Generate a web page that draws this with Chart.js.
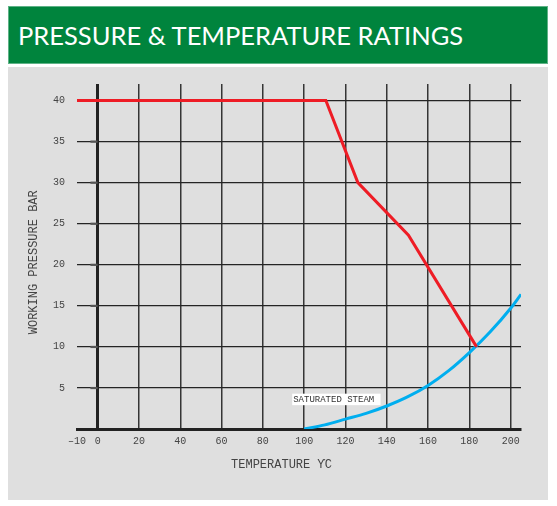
<!DOCTYPE html>
<html>
<head>
<meta charset="utf-8">
<title>Pressure &amp; Temperature Ratings</title>
<script src="https://cdn.jsdelivr.net/npm/chart.js@4/dist/chart.umd.min.js"></script>
<style>
    body {
        margin: 0;
        background: #ffffff;
        width: 557px;
        height: 506px;
        position: relative;
        overflow: hidden;
    }
    .header {
        position: absolute;
        left: 8px;
        top: 6px;
        width: 538px;
        height: 56px;
        background: #00843d;
        border: 1px solid #5fb287;
    }
    .header h1 {
        margin: 0;
        position: absolute;
        left: 9px;
        top: 13px;
        font-family: Lato, "Open Sans", sans-serif;
        font-weight: normal;
        font-size: 25.5px;
        line-height: 30px;
        color: #ffffff;
        white-space: nowrap;
    }
    .panel {
        position: absolute;
        left: 8px;
        top: 67px;
        width: 540px;
        height: 433px;
        background: #dfdfdf;
    }
    #ratings-chart {
        position: absolute;
        left: 0;
        top: 0;
    }
</style>
</head>
<body>
<div class="header"><h1>PRESSURE &amp; TEMPERATURE RATINGS</h1></div>
<div class="panel"></div>
<canvas id="ratings-chart" width="557" height="506"></canvas>

<script>
// Axis ticks
const tempTicks = [-10, 0, 20, 40, 60, 80, 100, 120, 140, 160, 180, 200];
const pressureTicks = [0, 5, 10, 15, 20, 25, 30, 35, 40];

// Maximum working pressure (bar) against temperature (°C)
const ratingTemps = [-10, 110.5, 126, 150.5, 183.5];
const ratingPressures = [40, 40, 30, 23.6, 10];

// Saturated steam curve
const steamTemps = [100, 110, 120, 130, 140, 150, 160, 170, 180, 190, 200, 205];
const steamPressures = [0, 0.5, 1.2, 1.9, 2.8, 3.9, 5.3, 7.1, 9.3, 11.8, 14.7, 16.4];

const MONO = '"Liberation Mono", "DejaVu Sans Mono", monospace';

function toPoints(xs, ys) {
    return xs.map((x, i) => ({ x: x, y: ys[i] }));
}

// Draws the white "SATURATED STEAM" tag and the small stubs on the zero line
const annotations = {
    id: 'annotations',
    beforeDatasetsDraw(chart) {
        const ctx = chart.ctx;
        const x = chart.scales.x;
        const y = chart.scales.y;

        ctx.save();
        ctx.fillStyle = '#555555';
        pressureTicks.forEach(v => {
            if (v === 0) return;
            const py = y.getPixelForValue(v);
            ctx.fillRect(x.getPixelForValue(-3.5), py - 1, x.getPixelForValue(0) - x.getPixelForValue(-3.5), 2.2);
        });

        const left = x.getPixelForValue(94.2);
        const right = x.getPixelForValue(137);
        const top = y.getPixelForValue(4.3);
        const bottom = y.getPixelForValue(2.9);
        ctx.fillStyle = '#ffffff';
        ctx.fillRect(left, top, right - left, bottom - top);
        ctx.fillStyle = '#333333';
        ctx.font = '9px ' + MONO;
        ctx.textBaseline = 'middle';
        ctx.textAlign = 'left';
        ctx.fillText('SATURATED STEAM', left + 1, (top + bottom) / 2);
        ctx.restore();
    },
    afterDraw(chart) {
        const ctx = chart.ctx;
        const x = chart.scales.x;
        const y = chart.scales.y;

        ctx.save();
        ctx.fillStyle = '#444444';
        ctx.font = '12px ' + MONO;
        ctx.textAlign = 'center';
        ctx.textBaseline = 'middle';
        ctx.fillText('TEMPERATURE ϒC', x.getPixelForValue(89), chart.chartArea.bottom + 36);

        ctx.translate(chart.chartArea.left - 43, y.getPixelForValue(20.3));
        ctx.rotate(-Math.PI / 2);
        ctx.fillText('WORKING PRESSURE BAR', 0, 0);
        ctx.restore();
    }
};

const chart = new Chart(document.getElementById('ratings-chart'), {
    type: 'line',
    data: {
        datasets: [{
            label: 'Rating',
            data: toPoints(ratingTemps, ratingPressures),
            borderColor: '#ee1c25',
            borderWidth: 3,
            pointRadius: 0,
            tension: 0,
            fill: false
        }, {
            label: 'Saturated steam',
            data: toPoints(steamTemps, steamPressures),
            borderColor: '#00aeef',
            borderWidth: 3,
            pointRadius: 0,
            cubicInterpolationMode: 'monotone',
            fill: false
        }]
    },
    options: {
        responsive: false,
        devicePixelRatio: 1,
        animation: false,
        layout: {
            padding: { top: 84, right: 36, left: 0, bottom: 0 }
        },
        plugins: {
            legend: { display: false },
            tooltip: { enabled: false }
        },
        scales: {
            x: {
                type: 'linear',
                min: -10,
                max: 205,
                afterBuildTicks: scale => {
                    scale.ticks = tempTicks.map(v => ({ value: v }));
                },
                afterFit: scale => {
                    scale.height = 77;
                },
                border: {
                    display: true,
                    width: 3,
                    color: '#222222'
                },
                grid: {
                    drawTicks: false,
                    color: c => {
                        if (c.tick && c.tick.value === -10) return 'rgba(0,0,0,0)';
                        if (c.tick && c.tick.value === 0) return '#222222';
                        return '#353535';
                    },
                    lineWidth: c => (c.tick && c.tick.value === 0) ? 3 : 1.5
                },
                ticks: {
                    padding: 6,
                    color: '#444444',
                    font: { family: MONO, size: 10 },
                    maxRotation: 0,
                    autoSkip: false,
                    callback: v => v === -10 ? '\u201310' : v
                }
            },
            y: {
                type: 'linear',
                min: 0,
                max: 42,
                afterBuildTicks: scale => {
                    scale.ticks = pressureTicks.map(v => ({ value: v }));
                },
                afterFit: scale => {
                    scale.width = 77;
                },
                border: { display: false },
                grid: {
                    drawTicks: false,
                    color: c => (c.tick && c.tick.value === 0) ? 'rgba(0,0,0,0)' : '#242424',
                    lineWidth: 1.3
                },
                ticks: {
                    padding: 12,
                    color: '#444444',
                    font: { family: MONO, size: 10 },
                    autoSkip: false,
                    callback: v => v === 0 ? '' : v
                }
            }
        }
    },
    plugins: [annotations]
});
</script>
</body>
</html>
